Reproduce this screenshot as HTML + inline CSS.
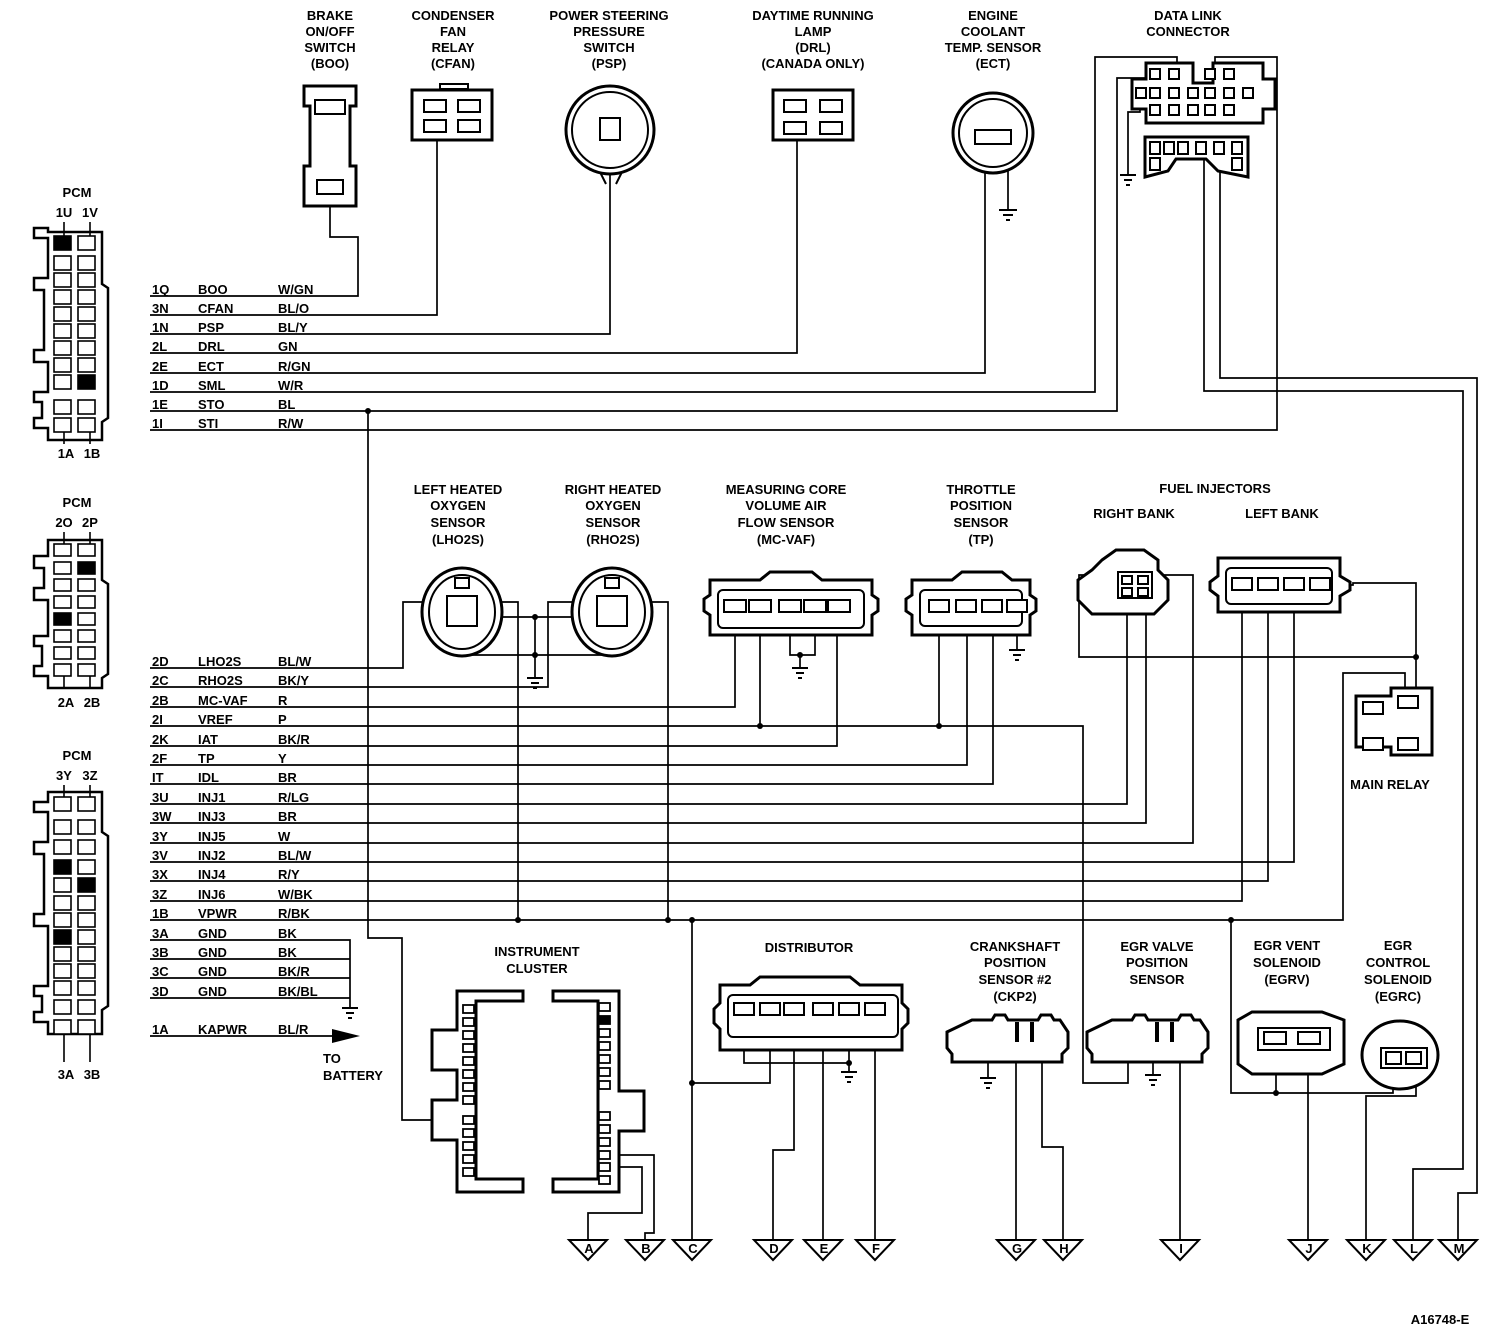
<!DOCTYPE html>
<html><head><meta charset="utf-8"><style>
html,body{margin:0;padding:0;background:#fff}
svg{display:block}
text{font-family:"Liberation Sans",Arial,sans-serif;font-weight:bold;font-size:13px;fill:#000}
.c{text-anchor:middle}
</style></head><body>
<svg width="1492" height="1344" viewBox="0 0 1492 1344" xmlns="http://www.w3.org/2000/svg">
<g fill="none" stroke="#000" stroke-width="1.7">
<!-- Section 1 wires -->
<polyline points="150,296 358,296 358,237 330,237 330,205"/>
<polyline points="150,315 437,315 437,128"/>
<polyline points="150,334 610,334 610,130"/>
<polyline points="150,353 797,353 797,130"/>
<polyline points="150,373 985,373 985,140"/>
<polyline points="150,392 1095,392 1095,57 1177,57 1177,75"/>
<polyline points="150,411 1117,411 1117,78 1148,78 1148,92"/>
<polyline points="150,430 1277,430 1277,57 1215,57 1215,75"/>
<polyline points="1008,140 1008,210"/>
<polyline points="1140,100 1140,112 1128,112 1128,175"/>
<polyline points="1204,150 1204,391 1463,391 1463,1169 1413,1169 1413,1240"/>
<polyline points="1220,150 1220,378 1477,378 1477,1193 1458,1193 1458,1240"/>
<!-- STO to cluster -->
<polyline points="368,411 368,938 402,938 402,1120 462,1120"/>
<!-- Section 2 wires -->
<polyline points="150,668 403,668 403,602 425,602"/>
<polyline points="476,602 518,602 518,920"/>
<polyline points="476,617 598,617"/>
<polyline points="535,617 535,678"/>
<polyline points="455,622 455,655 622,655 622,622"/>
<polyline points="150,687 548,687 548,602 598,602"/>
<polyline points="628,602 668,602 668,920"/>
<polyline points="150,707 735,707 735,618"/>
<polyline points="150,726 1083,726 1083,1083 1128,1083 1128,1048"/>
<polyline points="760,726 760,618"/>
<polyline points="150,746 837,746 837,618"/>
<polyline points="790,618 790,655 815,655 815,618"/>
<polyline points="800,655 800,668"/>
<polyline points="150,765 967,765 967,615"/>
<polyline points="939,726 939,615"/>
<polyline points="150,784 993,784 993,615"/>
<polyline points="1017,615 1017,650"/>
<polyline points="150,804 1127,804 1127,595"/>
<polyline points="150,823 1146,823 1146,595"/>
<polyline points="150,843 1193,843 1193,575 1079,575 1079,657 1416,657"/>
<polyline points="150,862 1294,862 1294,590"/>
<polyline points="150,881 1268,881 1268,590"/>
<polyline points="150,901 1242,901 1242,590"/>
<polyline points="1320,585 1353,585 1353,583 1416,583 1416,695"/>
<polyline points="150,920 1343,920 1343,673 1405,673 1405,695"/>
<polyline points="1231,920 1231,1093 1393,1093 1393,1060"/>
<polyline points="1276,1045 1276,1093"/>
<polyline points="1308,1045 1308,1240"/>
<polyline points="1416,1060 1416,1096 1366,1096 1366,1240"/>
<!-- GND rows -->
<polyline points="150,940 350,940 350,1008"/>
<polyline points="150,959 350,959"/>
<polyline points="150,978 350,978"/>
<polyline points="150,998 350,998"/>
<polyline points="150,1036 332,1036"/>
<!-- cluster -->
<polyline points="612,1155 654,1155 654,1233 645,1233 645,1240"/>
<polyline points="612,1167 642,1167 642,1213 588,1213 588,1240"/>
<polyline points="692,920 692,1240"/>
<polyline points="692,1083 770,1083 770,1020"/>
<polyline points="744,1020 744,1063 849,1063 849,1020"/>
<polyline points="849,1063 849,1072"/>
<polyline points="794,1020 794,1150 773,1150 773,1240"/>
<polyline points="823,1020 823,1240"/>
<polyline points="875,1020 875,1240"/>
<!-- CKP2 / EGR valve -->
<polyline points="988,1048 988,1078"/>
<polyline points="1016,1048 1016,1240"/>
<polyline points="1042,1048 1042,1147 1063,1147 1063,1240"/>
<polyline points="1153,1048 1153,1075"/>
<polyline points="1180,1048 1180,1240"/>
</g>
<!-- dots -->
<g fill="#000">
<circle cx="368" cy="411" r="3"/><circle cx="518" cy="920" r="3"/><circle cx="668" cy="920" r="3"/><circle cx="692" cy="920" r="3"/>
<circle cx="535" cy="617" r="3"/><circle cx="535" cy="655" r="3"/><circle cx="760" cy="726" r="3"/><circle cx="939" cy="726" r="3"/>
<circle cx="800" cy="655" r="3"/><circle cx="1416" cy="657" r="3"/><circle cx="1231" cy="920" r="3"/><circle cx="1276" cy="1093" r="3"/>
<circle cx="692" cy="1083" r="3"/><circle cx="849" cy="1063" r="3"/>
<polygon points="332,1029 360,1036 332,1043"/>
</g>
<!-- grounds -->
<g stroke="#000" stroke-width="2">
<path d="M999 210h18M1003 215h10M1006 220h4"/>
<path d="M1120 175h16M1124 180h8M1126 185h4"/>
<path d="M527 678h16M531 683h8M533 688h4"/>
<path d="M792 668h16M796 673h8M798 678h4"/>
<path d="M1009 650h16M1013 655h8M1015 660h4"/>
<path d="M342 1008h16M346 1013h8M348 1018h4"/>
<path d="M841 1072h16M845 1077h8M847 1082h4"/>
<path d="M980 1078h16M984 1083h8M986 1088h4"/>
<path d="M1145 1075h16M1149 1080h8M1151 1085h4"/>
</g>
<!-- triangles -->
<g fill="#fff" stroke="#000" stroke-width="2">
<polygon points="569,1240 607,1240 588,1260"/><polygon points="626,1240 664,1240 645,1260"/><polygon points="673,1240 711,1240 692,1260"/>
<polygon points="754,1240 792,1240 773,1260"/><polygon points="804,1240 842,1240 823,1260"/><polygon points="856,1240 894,1240 875,1260"/>
<polygon points="997,1240 1035,1240 1016,1260"/><polygon points="1044,1240 1082,1240 1063,1260"/><polygon points="1161,1240 1199,1240 1180,1260"/>
<polygon points="1289,1240 1327,1240 1308,1260"/><polygon points="1347,1240 1385,1240 1366,1260"/><polygon points="1394,1240 1432,1240 1413,1260"/><polygon points="1439,1240 1477,1240 1458,1260"/>
</g>
<g font-size="12">
<text class="c" x="589" y="1253">A</text><text class="c" x="646" y="1253">B</text><text class="c" x="693" y="1253">C</text><text class="c" x="774" y="1253">D</text><text class="c" x="824" y="1253">E</text><text class="c" x="876" y="1253">F</text><text class="c" x="1017" y="1253">G</text><text class="c" x="1064" y="1253">H</text><text class="c" x="1181" y="1253">I</text><text class="c" x="1309" y="1253">J</text><text class="c" x="1367" y="1253">K</text><text class="c" x="1414" y="1253">L</text><text class="c" x="1459" y="1253">M</text>
</g>
<!-- connectors -->
<g fill="#fff" stroke="#000" stroke-width="3">
<!-- BOO -->
<path d="M304 86h52v20h-6v60h6v40h-52v-40h6v-60h-6z"/>
<rect x="315" y="100" width="30" height="14" stroke-width="2"/><rect x="317" y="180" width="26" height="14" stroke-width="2"/>
<!-- CFAN -->
<rect x="412" y="90" width="80" height="50"/><rect x="440" y="84" width="28" height="5" stroke-width="2"/>
<rect x="424" y="100" width="22" height="12" stroke-width="2"/><rect x="458" y="100" width="22" height="12" stroke-width="2"/>
<rect x="424" y="120" width="22" height="12" stroke-width="2"/><rect x="458" y="120" width="22" height="12" stroke-width="2"/>
<!-- PSP -->
<circle cx="610" cy="130" r="44"/><circle cx="610" cy="130" r="38" stroke-width="2"/>
<rect x="600" y="118" width="20" height="22" stroke-width="2"/>
<path d="M600 172l6 12M622 172l-6 12" stroke-width="2"/>
<!-- DRL -->
<rect x="773" y="90" width="80" height="50"/>
<rect x="784" y="100" width="22" height="12" stroke-width="2"/><rect x="820" y="100" width="22" height="12" stroke-width="2"/>
<rect x="784" y="122" width="22" height="12" stroke-width="2"/><rect x="820" y="122" width="22" height="12" stroke-width="2"/>
<!-- ECT -->
<circle cx="993" cy="133" r="40"/><circle cx="993" cy="133" r="34" stroke-width="2"/>
<rect x="975" y="130" width="36" height="14" stroke-width="2"/>
<!-- DLC -->
<path d="M1146 63h47v20h20v-20h50v16h12v30h-12v14h-117v-14h-14v-30h14z"/>
<path d="M1145 137h103v40l-30-6-12-12h-30l-8 12-23 6z"/>
<!-- LHO2S / RHO2S -->
<ellipse cx="462" cy="612" rx="40" ry="44"/><ellipse cx="462" cy="612" rx="33" ry="37" stroke-width="2"/>
<rect x="447" y="596" width="30" height="30" stroke-width="2"/><rect x="455" y="578" width="14" height="10" stroke-width="2"/>
<ellipse cx="612" cy="612" rx="40" ry="44"/><ellipse cx="612" cy="612" rx="33" ry="37" stroke-width="2"/>
<rect x="597" y="596" width="30" height="30" stroke-width="2"/><rect x="605" y="578" width="14" height="10" stroke-width="2"/>
<!-- MC-VAF -->
<path d="M710 580h50l10-8h42l10 8h50v15l6 4v12l-6 4v20h-162v-20l-6-4v-12l6-4z"/>
<rect x="718" y="590" width="146" height="38" rx="5" stroke-width="2"/>
<!-- TP -->
<path d="M912 580h40l10-8h40l10 8h18v15l6 4v12l-6 4v20h-118v-20l-6-4v-12l6-4z"/>
<rect x="920" y="590" width="102" height="36" rx="5" stroke-width="2"/>
<!-- Right bank -->
<path d="M1102 560l14-10h28l14 10v10l10 10v20l-14 14h-62l-14-14v-20l14-10z"/>
<rect x="1118" y="572" width="34" height="26" stroke-width="2"/>
<!-- Left bank -->
<path d="M1218 558h122v18l10 6v8l-10 6v16h-122v-16l-8-6v-8l8-6z"/>
<rect x="1226" y="568" width="106" height="36" rx="5" stroke-width="2"/>
<!-- Main relay -->
<path d="M1356 696h35v-8h41v67h-41v-8h-35z"/>
<!-- Cluster -->
<path d="M457 991h66v10h-47v178h47v13h-66v-52h-25v-40h25v-30h-25v-40h25z"/>
<path d="M553 991h66v100h25v40h-25v61h-66v-13h45v-178h-45z"/>
<!-- Distributor -->
<path d="M720 985h30l10-8h90l10 8h42v18l6 6v14l-6 6v21h-182v-21l-6-6v-14l6-6z"/>
<rect x="728" y="995" width="170" height="42" rx="5" stroke-width="2"/>
<!-- CKP2 -->
<path d="M972 1020h20l3-5h10l3 5h30l3-5h10l3 5h6l8 12v16l-6 6v8h-110v-8l-5-6v-16z"/>
<!-- EGR valve -->
<path d="M1112 1020h20l3-5h10l3 5h30l3-5h10l3 5h6l8 12v16l-6 6v8h-110v-8l-5-6v-16z"/>
<!-- EGRV -->
<path d="M1252 1012h70l22 8v44l-22 10h-70l-14-10v-44z"/>
<rect x="1258" y="1028" width="72" height="22" stroke-width="2"/>
<!-- EGRC -->
<ellipse cx="1400" cy="1055" rx="38" ry="34"/>
<rect x="1381" y="1048" width="46" height="20" stroke-width="2"/>
</g>
<!-- pins -->
<g fill="#fff" stroke="#000" stroke-width="2">
<rect x="1150" y="69" width="10" height="10"/><rect x="1169" y="69" width="10" height="10"/><rect x="1205" y="69" width="10" height="10"/><rect x="1224" y="69" width="10" height="10"/>
<rect x="1136" y="88" width="10" height="10"/><rect x="1150" y="88" width="10" height="10"/><rect x="1169" y="88" width="10" height="10"/><rect x="1188" y="88" width="10" height="10"/><rect x="1205" y="88" width="10" height="10"/><rect x="1224" y="88" width="10" height="10"/><rect x="1243" y="88" width="10" height="10"/>
<rect x="1150" y="105" width="10" height="10"/><rect x="1169" y="105" width="10" height="10"/><rect x="1188" y="105" width="10" height="10"/><rect x="1205" y="105" width="10" height="10"/><rect x="1224" y="105" width="10" height="10"/>
<rect x="1150" y="142" width="10" height="12"/><rect x="1164" y="142" width="10" height="12"/><rect x="1178" y="142" width="10" height="12"/><rect x="1196" y="142" width="10" height="12"/><rect x="1214" y="142" width="10" height="12"/><rect x="1232" y="142" width="10" height="12"/>
<rect x="1150" y="158" width="10" height="12"/><rect x="1232" y="158" width="10" height="12"/>
<rect x="724" y="600" width="22" height="12"/><rect x="749" y="600" width="22" height="12"/><rect x="779" y="600" width="22" height="12"/><rect x="804" y="600" width="22" height="12"/><rect x="828" y="600" width="22" height="12"/>
<rect x="929" y="600" width="20" height="12"/><rect x="956" y="600" width="20" height="12"/><rect x="982" y="600" width="20" height="12"/><rect x="1007" y="600" width="20" height="12"/>
<rect x="1232" y="578" width="20" height="12"/><rect x="1258" y="578" width="20" height="12"/><rect x="1284" y="578" width="20" height="12"/><rect x="1310" y="578" width="20" height="12"/>
<rect x="1122" y="576" width="10" height="8"/><rect x="1138" y="576" width="10" height="8"/><rect x="1122" y="588" width="10" height="8"/><rect x="1138" y="588" width="10" height="8"/>
<rect x="1398" y="696" width="20" height="12"/><rect x="1363" y="702" width="20" height="12"/><rect x="1363" y="738" width="20" height="12"/><rect x="1398" y="738" width="20" height="12"/>
<rect x="734" y="1003" width="20" height="12"/><rect x="760" y="1003" width="20" height="12"/><rect x="784" y="1003" width="20" height="12"/><rect x="813" y="1003" width="20" height="12"/><rect x="839" y="1003" width="20" height="12"/><rect x="865" y="1003" width="20" height="12"/>
<rect x="1264" y="1032" width="22" height="12"/><rect x="1298" y="1032" width="22" height="12"/>
<rect x="1386" y="1052" width="15" height="12"/><rect x="1406" y="1052" width="15" height="12"/>
<path d="M1017 1042v-20M1032 1042v-20M1157 1042v-20M1172 1042v-20" stroke-width="4"/>
</g>
<!-- cluster pins -->
<g fill="#fff" stroke="#000" stroke-width="1.8">
<rect x="463" y="1005" width="11" height="8"/><rect x="463" y="1018" width="11" height="8"/><rect x="463" y="1031" width="11" height="8"/><rect x="463" y="1044" width="11" height="8"/><rect x="463" y="1057" width="11" height="8"/><rect x="463" y="1070" width="11" height="8"/><rect x="463" y="1083" width="11" height="8"/><rect x="463" y="1096" width="11" height="8"/><rect x="463" y="1116" width="11" height="8"/><rect x="463" y="1129" width="11" height="8"/><rect x="463" y="1142" width="11" height="8"/><rect x="463" y="1155" width="11" height="8"/><rect x="463" y="1168" width="11" height="8"/>
<rect x="599" y="1003" width="11" height="8"/><rect x="599" y="1016" width="11" height="8" fill="#000"/><rect x="599" y="1029" width="11" height="8"/><rect x="599" y="1042" width="11" height="8"/><rect x="599" y="1055" width="11" height="8"/><rect x="599" y="1068" width="11" height="8"/><rect x="599" y="1081" width="11" height="8"/><rect x="599" y="1112" width="11" height="8"/><rect x="599" y="1125" width="11" height="8"/><rect x="599" y="1138" width="11" height="8"/><rect x="599" y="1151" width="11" height="8"/><rect x="599" y="1163" width="11" height="8"/><rect x="599" y="1176" width="11" height="8"/>
</g>
<!-- PCM connectors -->
<g fill="#fff" stroke="#000" stroke-width="2.5">
<path d="M48 232h54v52l6 4v130l-6 4v18h-54v-12h-14v-10h8v-16h-8v-10h14v-30h-14v-12h10v-60h-10v-12h14v-40h-14v-10h14z"/>
<path d="M48 540h54v40l6 4v90l-6 4v10h-54v-12h-14v-10h8v-20h-8v-10h14v-36h-14v-12h10v-20h-10v-12h14z"/>
<path d="M48 792h54v40l6 4v170l-6 4v24h-54v-12h-14v-10h8v-16h-8v-10h14v-60h-14v-12h10v-60h-10v-12h14v-30h-14v-10h14z"/>
</g>
<g fill="#fff" stroke="#000" stroke-width="1.6">
<rect x="54" y="236" width="17" height="14" fill="#000"/><rect x="78" y="236" width="17" height="14"/>
<rect x="54" y="256" width="17" height="14"/><rect x="78" y="256" width="17" height="14"/>
<rect x="54" y="273" width="17" height="14"/><rect x="78" y="273" width="17" height="14"/>
<rect x="54" y="290" width="17" height="14"/><rect x="78" y="290" width="17" height="14"/>
<rect x="54" y="307" width="17" height="14"/><rect x="78" y="307" width="17" height="14"/>
<rect x="54" y="324" width="17" height="14"/><rect x="78" y="324" width="17" height="14"/>
<rect x="54" y="341" width="17" height="14"/><rect x="78" y="341" width="17" height="14"/>
<rect x="54" y="358" width="17" height="14"/><rect x="78" y="358" width="17" height="14"/>
<rect x="54" y="375" width="17" height="14"/><rect x="78" y="375" width="17" height="14" fill="#000"/>
<rect x="54" y="400" width="17" height="14"/><rect x="78" y="400" width="17" height="14"/>
<rect x="54" y="418" width="17" height="14"/><rect x="78" y="418" width="17" height="14"/>

<rect x="54" y="544" width="17" height="12"/><rect x="78" y="544" width="17" height="12"/>
<rect x="54" y="562" width="17" height="12"/><rect x="78" y="562" width="17" height="12" fill="#000"/>
<rect x="54" y="579" width="17" height="12"/><rect x="78" y="579" width="17" height="12"/>
<rect x="54" y="596" width="17" height="12"/><rect x="78" y="596" width="17" height="12"/>
<rect x="54" y="613" width="17" height="12" fill="#000"/><rect x="78" y="613" width="17" height="12"/>
<rect x="54" y="630" width="17" height="12"/><rect x="78" y="630" width="17" height="12"/>
<rect x="54" y="647" width="17" height="12"/><rect x="78" y="647" width="17" height="12"/>
<rect x="54" y="664" width="17" height="12"/><rect x="78" y="664" width="17" height="12"/>

<rect x="54" y="797" width="17" height="14"/><rect x="78" y="797" width="17" height="14"/>
<rect x="54" y="820" width="17" height="14"/><rect x="78" y="820" width="17" height="14"/>
<rect x="54" y="840" width="17" height="14"/><rect x="78" y="840" width="17" height="14"/>
<rect x="54" y="860" width="17" height="14" fill="#000"/><rect x="78" y="860" width="17" height="14"/>
<rect x="54" y="878" width="17" height="14"/><rect x="78" y="878" width="17" height="14" fill="#000"/>
<rect x="54" y="896" width="17" height="14"/><rect x="78" y="896" width="17" height="14"/>
<rect x="54" y="913" width="17" height="14"/><rect x="78" y="913" width="17" height="14"/>
<rect x="54" y="930" width="17" height="14" fill="#000"/><rect x="78" y="930" width="17" height="14"/>
<rect x="54" y="947" width="17" height="14"/><rect x="78" y="947" width="17" height="14"/>
<rect x="54" y="964" width="17" height="14"/><rect x="78" y="964" width="17" height="14"/>
<rect x="54" y="981" width="17" height="14"/><rect x="78" y="981" width="17" height="14"/>
<rect x="54" y="1000" width="17" height="14"/><rect x="78" y="1000" width="17" height="14"/>
<rect x="54" y="1020" width="17" height="14"/><rect x="78" y="1020" width="17" height="14"/>
<path d="M64 222v14M90 222v14M64 432v12M90 432v12M64 532v12M90 532v12M64 676v12M90 676v12M64 785v12M90 785v12M64 1034v28M90 1034v28"/>
</g>
<!-- labels -->
<g>
<text class="c" x="330" y="20">BRAKE</text><text class="c" x="330" y="36">ON/OFF</text><text class="c" x="330" y="52">SWITCH</text><text class="c" x="330" y="68">(BOO)</text>
<text class="c" x="453" y="20">CONDENSER</text><text class="c" x="453" y="36">FAN</text><text class="c" x="453" y="52">RELAY</text><text class="c" x="453" y="68">(CFAN)</text>
<text class="c" x="609" y="20">POWER STEERING</text><text class="c" x="609" y="36">PRESSURE</text><text class="c" x="609" y="52">SWITCH</text><text class="c" x="609" y="68">(PSP)</text>
<text class="c" x="813" y="20">DAYTIME RUNNING</text><text class="c" x="813" y="36">LAMP</text><text class="c" x="813" y="52">(DRL)</text><text class="c" x="813" y="68">(CANADA ONLY)</text>
<text class="c" x="993" y="20">ENGINE</text><text class="c" x="993" y="36">COOLANT</text><text class="c" x="993" y="52">TEMP. SENSOR</text><text class="c" x="993" y="68">(ECT)</text>
<text class="c" x="1188" y="20">DATA LINK</text><text class="c" x="1188" y="36">CONNECTOR</text>
<text class="c" x="458" y="494">LEFT HEATED</text><text class="c" x="458" y="510">OXYGEN</text><text class="c" x="458" y="527">SENSOR</text><text class="c" x="458" y="544">(LHO2S)</text>
<text class="c" x="613" y="494">RIGHT HEATED</text><text class="c" x="613" y="510">OXYGEN</text><text class="c" x="613" y="527">SENSOR</text><text class="c" x="613" y="544">(RHO2S)</text>
<text class="c" x="786" y="494">MEASURING CORE</text><text class="c" x="786" y="510">VOLUME AIR</text><text class="c" x="786" y="527">FLOW SENSOR</text><text class="c" x="786" y="544">(MC-VAF)</text>
<text class="c" x="981" y="494">THROTTLE</text><text class="c" x="981" y="510">POSITION</text><text class="c" x="981" y="527">SENSOR</text><text class="c" x="981" y="544">(TP)</text>
<text class="c" x="1215" y="493">FUEL INJECTORS</text><text class="c" x="1134" y="518">RIGHT BANK</text><text class="c" x="1282" y="518">LEFT BANK</text>
<text class="c" x="1390" y="789">MAIN RELAY</text>
<text class="c" x="537" y="956">INSTRUMENT</text><text class="c" x="537" y="973">CLUSTER</text>
<text class="c" x="809" y="952">DISTRIBUTOR</text>
<text class="c" x="1015" y="951">CRANKSHAFT</text><text class="c" x="1015" y="967">POSITION</text><text class="c" x="1015" y="984">SENSOR #2</text><text class="c" x="1015" y="1001">(CKP2)</text>
<text class="c" x="1157" y="951">EGR VALVE</text><text class="c" x="1157" y="967">POSITION</text><text class="c" x="1157" y="984">SENSOR</text>
<text class="c" x="1287" y="950">EGR VENT</text><text class="c" x="1287" y="967">SOLENOID</text><text class="c" x="1287" y="984">(EGRV)</text>
<text class="c" x="1398" y="950">EGR</text><text class="c" x="1398" y="967">CONTROL</text><text class="c" x="1398" y="984">SOLENOID</text><text class="c" x="1398" y="1001">(EGRC)</text>
<text x="323" y="1063">TO</text><text x="323" y="1080">BATTERY</text>
<text class="c" x="1440" y="1324" font-size="18">A16748-E</text>
<text class="c" x="77" y="197">PCM</text><text class="c" x="64" y="217">1U</text><text class="c" x="90" y="217">1V</text><text class="c" x="66" y="458">1A</text><text class="c" x="92" y="458">1B</text>
<text class="c" x="77" y="507">PCM</text><text class="c" x="64" y="527">2O</text><text class="c" x="90" y="527">2P</text><text class="c" x="66" y="707">2A</text><text class="c" x="92" y="707">2B</text>
<text class="c" x="77" y="760">PCM</text><text class="c" x="64" y="780">3Y</text><text class="c" x="90" y="780">3Z</text><text class="c" x="66" y="1079">3A</text><text class="c" x="92" y="1079">3B</text>
</g>
<g font-size="12">
<text x="152" y="294">1Q</text><text x="198" y="294">BOO</text><text x="278" y="294">W/GN</text>
<text x="152" y="313">3N</text><text x="198" y="313">CFAN</text><text x="278" y="313">BL/O</text>
<text x="152" y="332">1N</text><text x="198" y="332">PSP</text><text x="278" y="332">BL/Y</text>
<text x="152" y="351">2L</text><text x="198" y="351">DRL</text><text x="278" y="351">GN</text>
<text x="152" y="371">2E</text><text x="198" y="371">ECT</text><text x="278" y="371">R/GN</text>
<text x="152" y="390">1D</text><text x="198" y="390">SML</text><text x="278" y="390">W/R</text>
<text x="152" y="409">1E</text><text x="198" y="409">STO</text><text x="278" y="409">BL</text>
<text x="152" y="428">1I</text><text x="198" y="428">STI</text><text x="278" y="428">R/W</text>
<text x="152" y="666">2D</text><text x="198" y="666">LHO2S</text><text x="278" y="666">BL/W</text>
<text x="152" y="685">2C</text><text x="198" y="685">RHO2S</text><text x="278" y="685">BK/Y</text>
<text x="152" y="705">2B</text><text x="198" y="705">MC-VAF</text><text x="278" y="705">R</text>
<text x="152" y="724">2I</text><text x="198" y="724">VREF</text><text x="278" y="724">P</text>
<text x="152" y="744">2K</text><text x="198" y="744">IAT</text><text x="278" y="744">BK/R</text>
<text x="152" y="763">2F</text><text x="198" y="763">TP</text><text x="278" y="763">Y</text>
<text x="152" y="782">IT</text><text x="198" y="782">IDL</text><text x="278" y="782">BR</text>
<text x="152" y="802">3U</text><text x="198" y="802">INJ1</text><text x="278" y="802">R/LG</text>
<text x="152" y="821">3W</text><text x="198" y="821">INJ3</text><text x="278" y="821">BR</text>
<text x="152" y="841">3Y</text><text x="198" y="841">INJ5</text><text x="278" y="841">W</text>
<text x="152" y="860">3V</text><text x="198" y="860">INJ2</text><text x="278" y="860">BL/W</text>
<text x="152" y="879">3X</text><text x="198" y="879">INJ4</text><text x="278" y="879">R/Y</text>
<text x="152" y="899">3Z</text><text x="198" y="899">INJ6</text><text x="278" y="899">W/BK</text>
<text x="152" y="918">1B</text><text x="198" y="918">VPWR</text><text x="278" y="918">R/BK</text>
<text x="152" y="938">3A</text><text x="198" y="938">GND</text><text x="278" y="938">BK</text>
<text x="152" y="957">3B</text><text x="198" y="957">GND</text><text x="278" y="957">BK</text>
<text x="152" y="976">3C</text><text x="198" y="976">GND</text><text x="278" y="976">BK/R</text>
<text x="152" y="996">3D</text><text x="198" y="996">GND</text><text x="278" y="996">BK/BL</text>
<text x="152" y="1034">1A</text><text x="198" y="1034">KAPWR</text><text x="278" y="1034">BL/R</text>
</g>
</svg>
</body></html>
